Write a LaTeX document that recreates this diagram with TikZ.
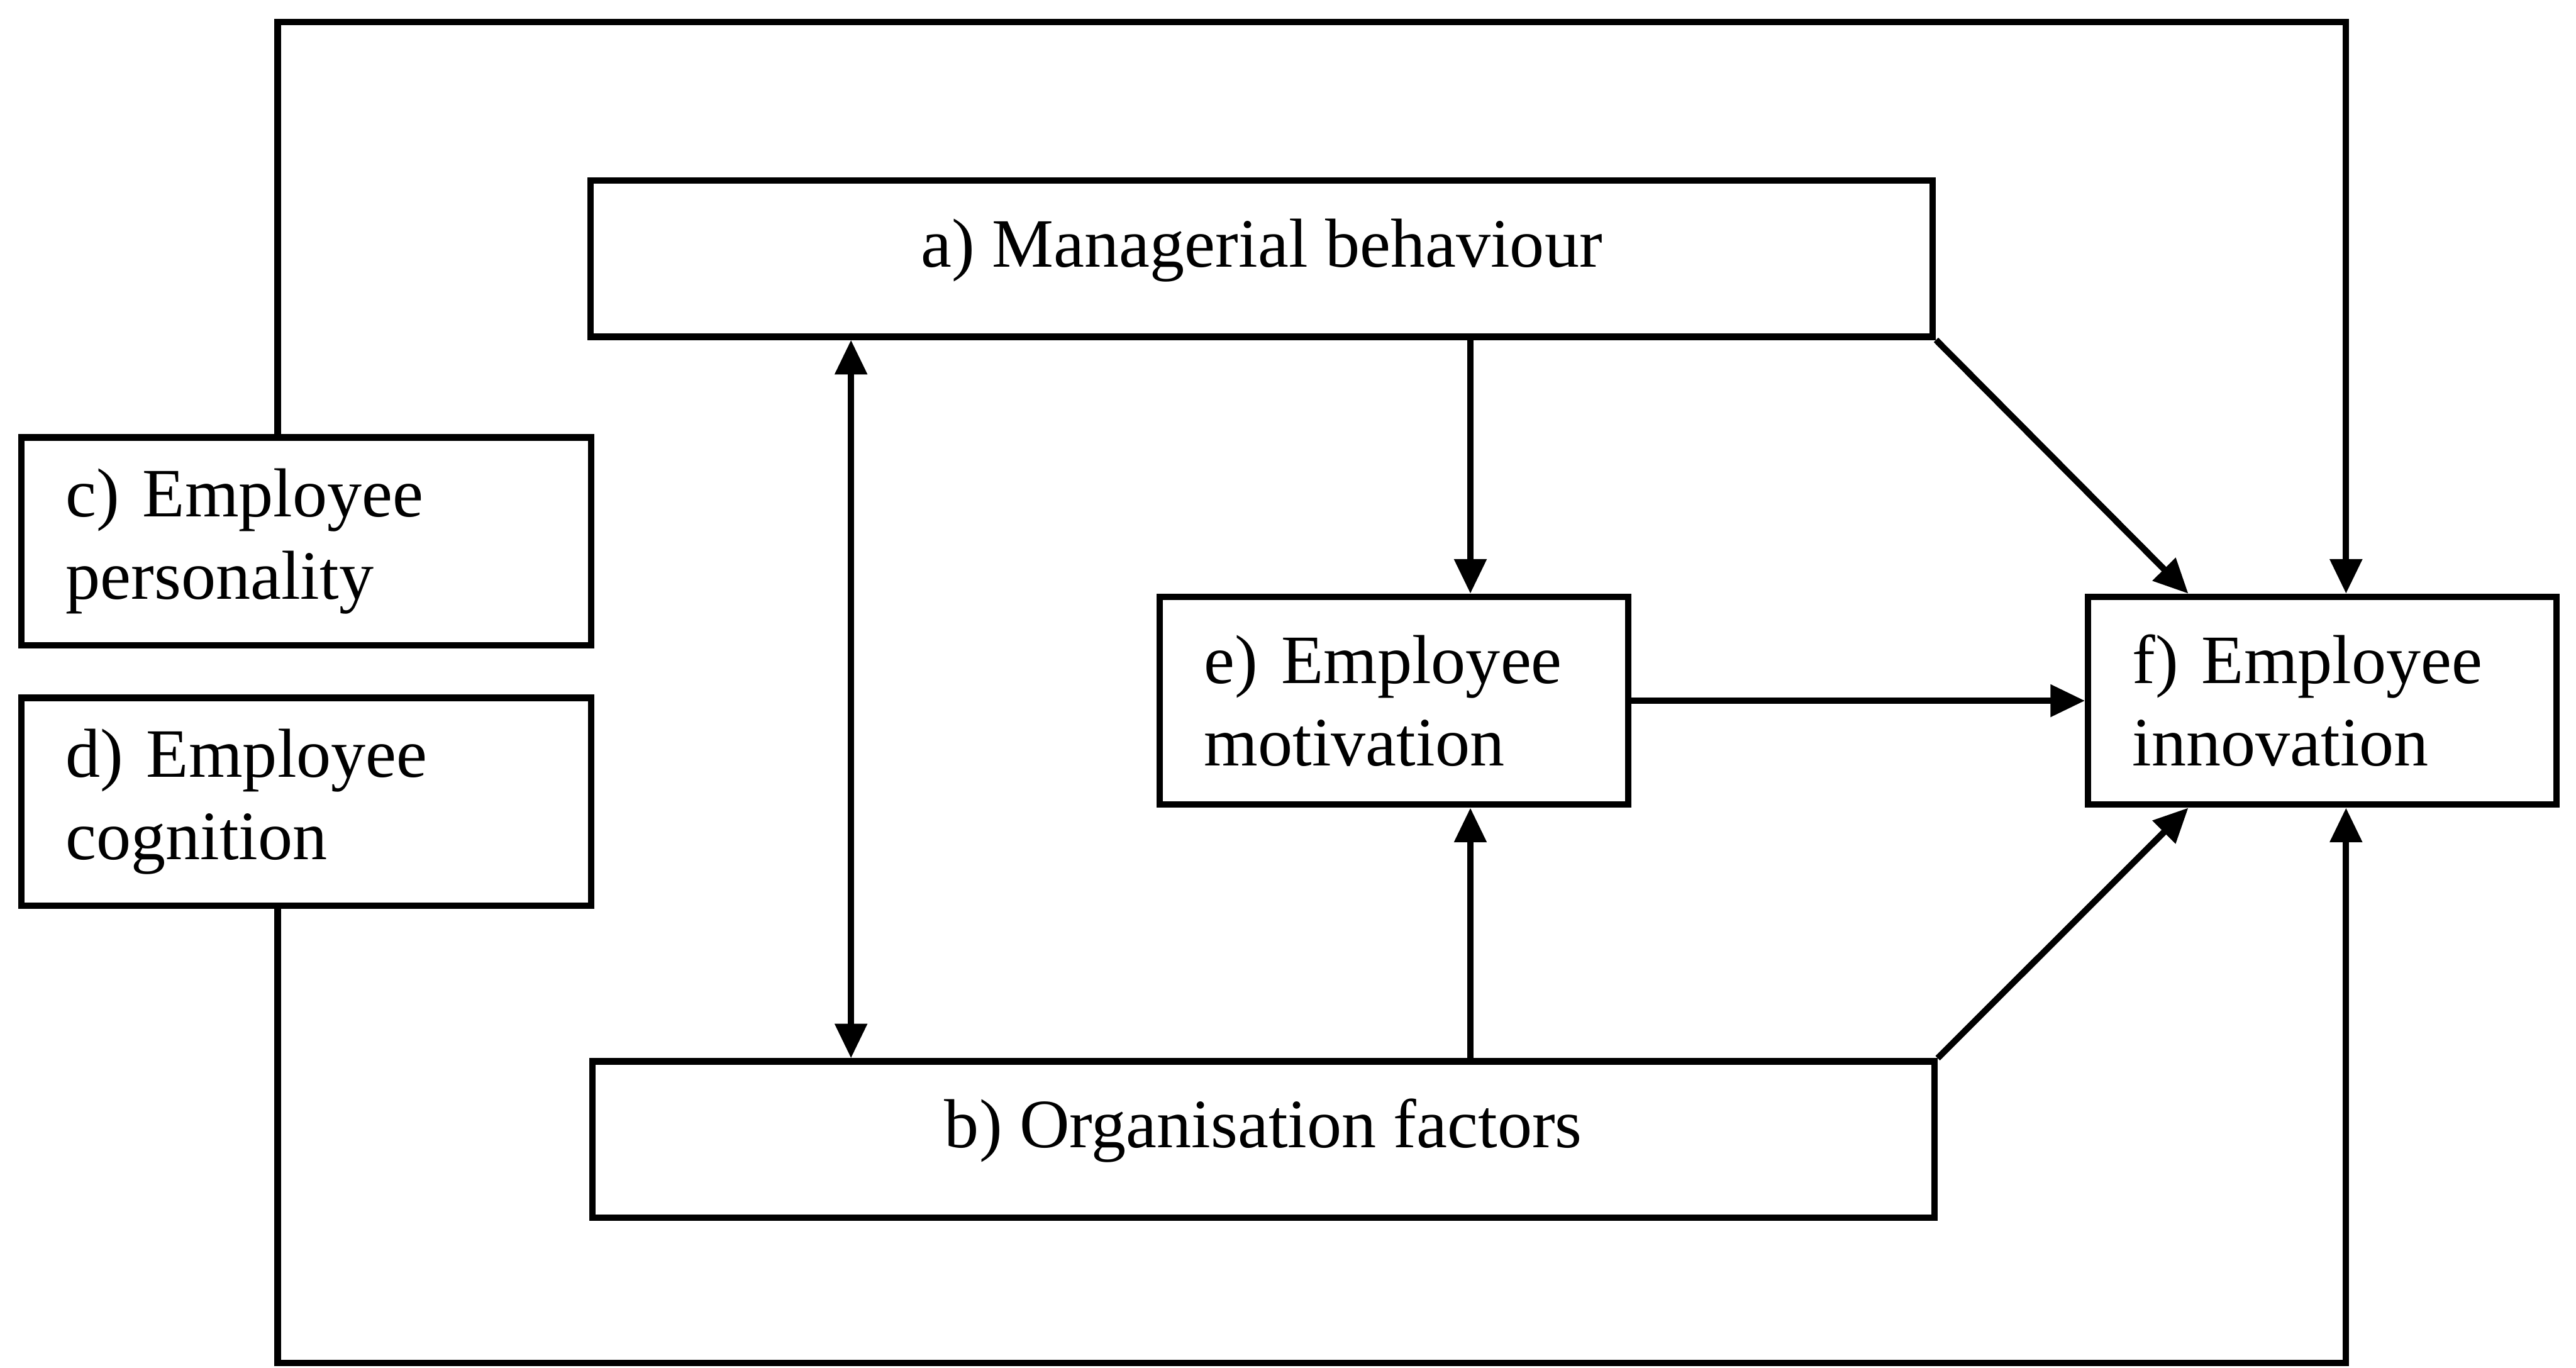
\documentclass[tikz,border=0pt]{standalone}
\usepackage{fontspec}
\setmainfont{Liberation Serif}
\usetikzlibrary{positioning, arrows.meta}

\begin{document}
\begin{tikzpicture}[->, >={Triangle[length=2.1mm, width=1.9mm]}, line width=1.1pt,
      every node/.style={font=\fontsize{12pt}{14.3pt}\selectfont},
      wide/.style={draw, -, minimum width=8.17cm, minimum height=0.95cm, inner sep=0pt,
        text height=2.8mm, text depth=1.8mm},
      side/.style={draw, -, text width=2.93cm, minimum height=1.265cm, inner xsep=0.27cm, align=left},
      mid/.style={side, text width=2.31cm}]
    \useasboundingbox (0,0) rectangle (15.68,8.325);

    \node[wide] (mb) at (7.68,6.75) {a) Managerial behaviour};
    \node[wide] (of) at (7.69,1.39) {b) Organisation factors};
    \node[side] (pers) at (1.865,5.03) {c) Employee\\personality};
    \node[side] (cogn) at (1.865,3.445) {d) Employee\\cognition};
    \node[mid] (motv) at (8.485,4.06) {e) Employee\\motivation};
    \node[mid] (innv) at (14.135,4.06) {f) Employee\\innovation};

    % corners of the outer loop and the columns the arrows run in
    \coordinate (tl) at (1.69,8.19);
    \coordinate (bl) at (1.69,0.03);
    \coordinate (col1) at (5.18,0);
    \coordinate (col2) at (8.95,0);
    \coordinate (col3) at (13.32,0);
    \coordinate (col4) at (14.28,0);

    \draw[<->] (col1 |- mb.south) -- (col1 |- of.north);
    \draw (col2 |- mb.south) -- (col2 |- motv.north);
    \draw (col2 |- of.north) -- (col2 |- motv.south);
    \draw (motv) -- (innv);
    \draw (mb.south east) -- (col3 |- innv.north);
    \draw (of.north east) -- (col3 |- innv.south);
    \draw (tl |- pers.north) -- (tl) -| (col4 |- innv.north);
    \draw (bl |- cogn.south) -- (bl) -| (col4 |- innv.south);
\end{tikzpicture}
\end{document}
